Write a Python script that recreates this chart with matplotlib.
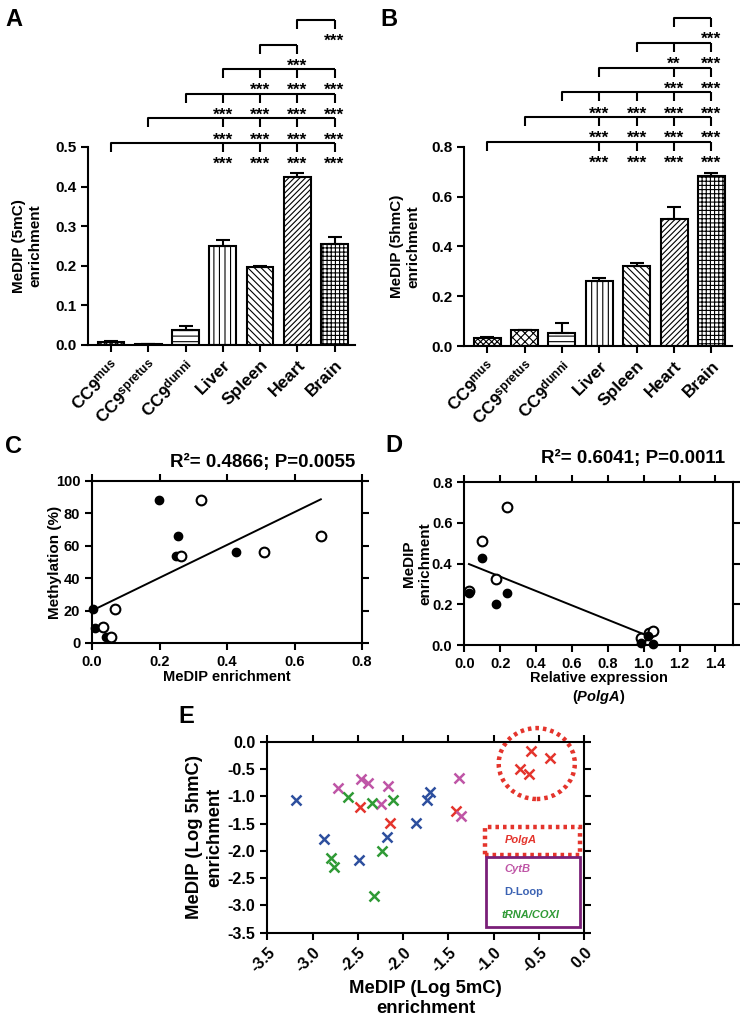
import numpy as np
import matplotlib
matplotlib.use('Agg')
import matplotlib.pyplot as plt
from matplotlib.patches import Ellipse, Rectangle

plt.rcParams['font.family'] = ['Liberation Sans', 'DejaVu Sans']
plt.rcParams['font.weight'] = 'bold'
plt.rcParams['axes.labelweight'] = 'bold'
plt.rcParams['axes.titleweight'] = 'bold'
plt.rcParams['axes.unicode_minus'] = False
plt.rcParams['mathtext.fontset'] = 'custom'
plt.rcParams['mathtext.rm'] = 'Liberation Sans:bold'
plt.rcParams['mathtext.it'] = 'Liberation Sans:italic:bold'
plt.rcParams['mathtext.bf'] = 'Liberation Sans:bold'
plt.rcParams['mathtext.default'] = 'rm'
plt.rcParams['hatch.linewidth'] = 0.8
plt.rcParams['axes.linewidth'] = 1.5

# ---------------- data ----------------
tissues = ['CC9$^{mus}$', 'CC9$^{spretus}$', 'CC9$^{dunni}$', 'Liver', 'Spleen', 'Heart', 'Brain']

a_mean = [0.007, 0.003, 0.038, 0.249, 0.196, 0.424, 0.255]
a_err = [0.002, 0.0007, 0.009, 0.016, 0.003, 0.010, 0.017]
a_sig = [(0, [3, 4, 5, 6], ['***', '***', '***', '***']),
         (1, [3, 4, 5, 6], ['***', '***', '***', '***']),
         (2, [3, 4, 5, 6], ['***', '***', '***', '***']),
         (3, [4, 5, 6], ['***', '***', '***']),
         (4, [5], ['***']),
         (5, [6], ['***'])]

b_mean = [0.032, 0.064, 0.051, 0.262, 0.320, 0.510, 0.684]
b_err = [0.003, 0.002, 0.041, 0.011, 0.013, 0.050, 0.012]
b_sig = [(0, [3, 4, 5, 6], ['***', '***', '***', '***']),
         (1, [3, 4, 5, 6], ['***', '***', '***', '***']),
         (2, [3, 4, 5, 6], ['***', '***', '***', '***']),
         (3, [5, 6], ['***', '***']),
         (4, [5, 6], ['**', '***']),
         (5, [6], ['***'])]

c_filled_x = [0.004, 0.009, 0.041, 0.198, 0.256, 0.249, 0.426]
c_filled_y = [21, 9, 4, 88, 66, 54, 56]
c_open_x = [0.068, 0.033, 0.056, 0.323, 0.264, 0.511, 0.679]
c_open_y = [21, 10, 4, 88, 54, 56, 66]
c_fit_x = [0.004, 0.678]
c_fit_y = [20.4, 88.7]
c_title = 'R²= 0.4866; P=0.0055'

d_filled_x = [0.097, 0.026, 0.238, 0.175, 0.985, 1.026, 1.05]
d_filled_y = [0.426, 0.254, 0.257, 0.200, 0.010, 0.044, 0.007]
d_open_x = [0.236, 0.097, 0.175, 0.026, 0.985, 1.030, 1.05]
d_open_y = [0.680, 0.511, 0.323, 0.267, 0.036, 0.057, 0.070]
d_fit_x = [0.026, 0.998]
d_fit_y = [0.398, 0.054]
d_title = 'R²= 0.6041; P=0.0011'

polga_x = [-0.59, -0.38, -0.71, -0.61, -2.48, -2.14, -1.42]
polga_y = [-0.17, -0.29, -0.50, -0.59, -1.19, -1.49, -1.27]
cytb_x = [-2.72, -2.46, -2.39, -2.17, -2.25, -1.38, -1.36]
cytb_y = [-0.85, -0.69, -0.76, -0.82, -1.15, -0.67, -1.37]
dloop_x = [-3.18, -2.87, -2.18, -1.86, -1.74, -1.70, -2.49]
dloop_y = [-1.07, -1.79, -1.74, -1.49, -1.07, -0.93, -2.17]
trna_x = [-2.61, -2.34, -2.11, -2.80, -2.76, -2.23, -2.32]
trna_y = [-1.02, -1.12, -1.06, -2.14, -2.30, -2.01, -2.82]

RED = '#e4342c'
MAG = '#bf55a6'
BLUE = '#2d4f9e'
GREEN = '#2f9a35'
PURPLE = '#7a1f78'

# ---------------- figure ----------------
W, H = 742, 1022
fig = plt.figure(figsize=(W / 100, H / 100), dpi=100)


def px_axes(x0, y0, x1, y1):
    return fig.add_axes([x0 / W, 1 - y1 / H, (x1 - x0) / W, (y1 - y0) / H])


def bar_panel(ax, means, errs, hatches, ylim, yticks, ylabel, sig_rows, base_px, step_px, lab_x):
    x = np.arange(len(tissues))
    bars = ax.bar(x, means, width=0.72, color='white', edgecolor='black', linewidth=1.5, zorder=2)
    for b, h in zip(bars, hatches):
        b.set_hatch(h)
    ax.errorbar(x, means, yerr=[np.zeros(len(errs)), errs], fmt='none', ecolor='black',
                elinewidth=1.5, capsize=5, capthick=1.5, zorder=3)
    ax.set_xlim(-0.62, 6.55)
    ax.set_ylim(*ylim)
    ax.set_yticks(yticks)
    ax.set_yticklabels(['%.1f' % v for v in yticks], fontsize=11)
    ax.set_xticks(x)
    ax.set_xticklabels(tissues, rotation=45, ha='right', rotation_mode='anchor', fontsize=12.5)
    ax.tick_params(direction='out', length=5, width=1.5)
    ax.spines['top'].set_visible(False)
    ax.spines['right'].set_visible(False)
    ax.set_ylabel(ylabel, fontsize=11, fontweight='bold')
    ax.yaxis.set_label_coords(lab_x, 0.5)
    ppu = ax.get_position().height * H / (ylim[1] - ylim[0])
    tick = 9 / ppu
    for k, (start, targets, labels) in enumerate(sig_rows):
        yr = (base_px + k * step_px) / ppu
        end = targets[-1]
        ax.plot([start, start, end], [yr - tick, yr, yr], color='black', lw=1.5,
                clip_on=False, solid_capstyle='butt')
        for t, lab in zip(targets, labels):
            ax.plot([t, t], [yr, yr - tick], color='black', lw=1.5, clip_on=False,
                    solid_capstyle='butt')
            ax.text(t, yr - 26 / ppu, lab, ha='center', va='baseline', fontsize=12.5,
                    fontweight='bold', clip_on=False)


# Panel A
axa = px_axes(88, 147, 355, 345)
bar_panel(axa, a_mean, a_err,
          ['xxxxxx', 'xxxxxx', '---', '|||', '\\\\\\\\\\', '//////', '++++'],
          (0, 0.5), [0, 0.1, 0.2, 0.3, 0.4, 0.5], 'MeDIP (5mC)\nenrichment',
          a_sig, 202, 24.6, -0.172)

# Panel B
axb = px_axes(464, 147, 732, 346)
bar_panel(axb, b_mean, b_err,
          ['xxxxxx', 'xxxx', '---', '|||', '\\\\\\\\\\', '//////', '++++'],
          (0, 0.8), [0, 0.2, 0.4, 0.6, 0.8], 'MeDIP (5hmC)\nenrichment',
          b_sig, 204, 24.8, -0.164)


def scatter_box(ax):
    ax.tick_params(direction='out', length=5, width=1.5, top=True, right=True,
                   labeltop=False, labelright=False, labelsize=10.5)


# Panel C
axc = px_axes(92, 481, 362, 643)
axc.plot(c_fit_x, c_fit_y, color='black', lw=1.4)
axc.plot(c_filled_x, c_filled_y, 'o', ms=6, mfc='black', mec='black', clip_on=False)
axc.plot(c_open_x, c_open_y, 'o', ms=7, mfc='white', mec='black', mew=1.5, clip_on=False)
axc.set_xlim(0, 0.8)
axc.set_ylim(0, 100)
axc.set_xticks([0, 0.2, 0.4, 0.6, 0.8])
axc.set_xticklabels(['0.0', '0.2', '0.4', '0.6', '0.8'])
axc.set_yticks([0, 20, 40, 60, 80, 100])
scatter_box(axc)
axc.set_ylabel('Methylation (%)', fontsize=11, fontweight='bold')
axc.yaxis.set_label_coords(-0.111, 0.5)
axc.set_xlabel('MeDIP enrichment', fontsize=10.5, fontweight='bold')
axc.xaxis.set_label_coords(0.5, -0.165)
axc.text(0.974, 1.117, c_title, transform=axc.transAxes, ha='right', va='center',
         fontsize=13.5, fontweight='bold')

# Panel D
axd = px_axes(464.3, 482.3, 733.3, 645)
axd.plot(d_fit_x, d_fit_y, color='black', lw=1.4)
axd.plot(d_open_x, d_open_y, 'o', ms=7, mfc='white', mec='black', mew=1.5, clip_on=False)
axd.plot(d_filled_x, d_filled_y, 'o', ms=6, mfc='black', mec='black', clip_on=False)
axd.set_xlim(0, 1.5)
axd.set_ylim(0, 0.8)
xt = [0, 0.2, 0.4, 0.6, 0.8, 1.0, 1.2, 1.4]
axd.set_xticks(xt)
axd.set_xticklabels(['%.1f' % v for v in xt])
yt = [0, 0.2, 0.4, 0.6, 0.8]
axd.set_yticks(yt)
axd.set_yticklabels(['%.1f' % v for v in yt])
scatter_box(axd)
axd.set_ylabel('MeDIP\nenrichment', fontsize=11, fontweight='bold')
axd.yaxis.set_label_coords(-0.12, 0.5)
axd.set_xlabel('Relative expression\n($\\mathit{PolgA}$)', fontsize=10.5, fontweight='bold')
axd.xaxis.set_label_coords(0.5, -0.16)
axd.text(0.969, 1.149, d_title, transform=axd.transAxes, ha='right', va='center',
         fontsize=13.5, fontweight='bold')

# Panel E
axe = px_axes(267.3, 741.7, 584.3, 932.7)
for xs, ys, col in [(polga_x, polga_y, RED), (cytb_x, cytb_y, MAG),
                    (dloop_x, dloop_y, BLUE), (trna_x, trna_y, GREEN)]:
    axe.plot(xs, ys, 'x', ms=6.5, mew=1.8, color=col, linestyle='none')
axe.set_xlim(-3.5, 0)
axe.set_ylim(-3.5, 0)
et = [-3.5, -3.0, -2.5, -2.0, -1.5, -1.0, -0.5, 0.0]
axe.set_xticks(et)
axe.set_xticklabels(['%.1f' % v for v in et], rotation=45, ha='right', rotation_mode='anchor')
axe.set_yticks(et)
axe.set_yticklabels(['%.1f' % v for v in et])
axe.tick_params(direction='out', length=5, width=1.5, top=True, right=True,
                labeltop=False, labelright=False, labelsize=11.5)
axe.set_ylabel('MeDIP (Log 5hmC)\nenrichment', fontsize=13.3, fontweight='bold')
axe.yaxis.set_label_coords(-0.14, 0.5)
axe.set_xlabel('MeDIP (Log 5mC)\nenrichment', fontsize=13.3, fontweight='bold')
axe.xaxis.set_label_coords(0.5, -0.25)

axe.add_patch(Ellipse((-0.525, -0.40), 0.84, 1.30, fill=False, ec=RED, lw=3.2,
                      ls=(0, (0.8, 0.9)), clip_on=False))
axe.add_patch(Rectangle((-1.10, -2.08), 1.05, 0.52, fill=False, ec=RED, lw=3.2,
                        ls=(0, (0.8, 0.9)), clip_on=False))
axe.add_patch(Rectangle((-1.085, -3.39), 1.035, 1.28, fill=False, ec=PURPLE, lw=2,
                        clip_on=False))
axe.text(-0.88, -1.80, 'PolgA', color=RED, fontsize=8, style='italic', fontweight='bold',
         va='center', ha='left')
axe.text(-0.88, -2.34, 'CytB', color=MAG, fontsize=8, style='italic', fontweight='bold',
         va='center', ha='left')
axe.text(-0.88, -2.75, 'D-Loop', color='#3b62b3', fontsize=8, fontweight='bold',
         va='center', ha='left')
axe.text(-0.91, -3.17, 'tRNA/COXI', color=GREEN, fontsize=8, style='italic', fontweight='bold',
         va='center', ha='left')

# panel letters
for lab, (px, py) in {'A': (5, 8), 'B': (380, 8), 'C': (5, 435), 'D': (385, 434),
                      'E': (178, 705)}.items():
    fig.text(px / W, 1 - py / H, lab, fontsize=17, fontweight='bold', ha='left', va='top')

fig.savefig('out.png', dpi=100)
